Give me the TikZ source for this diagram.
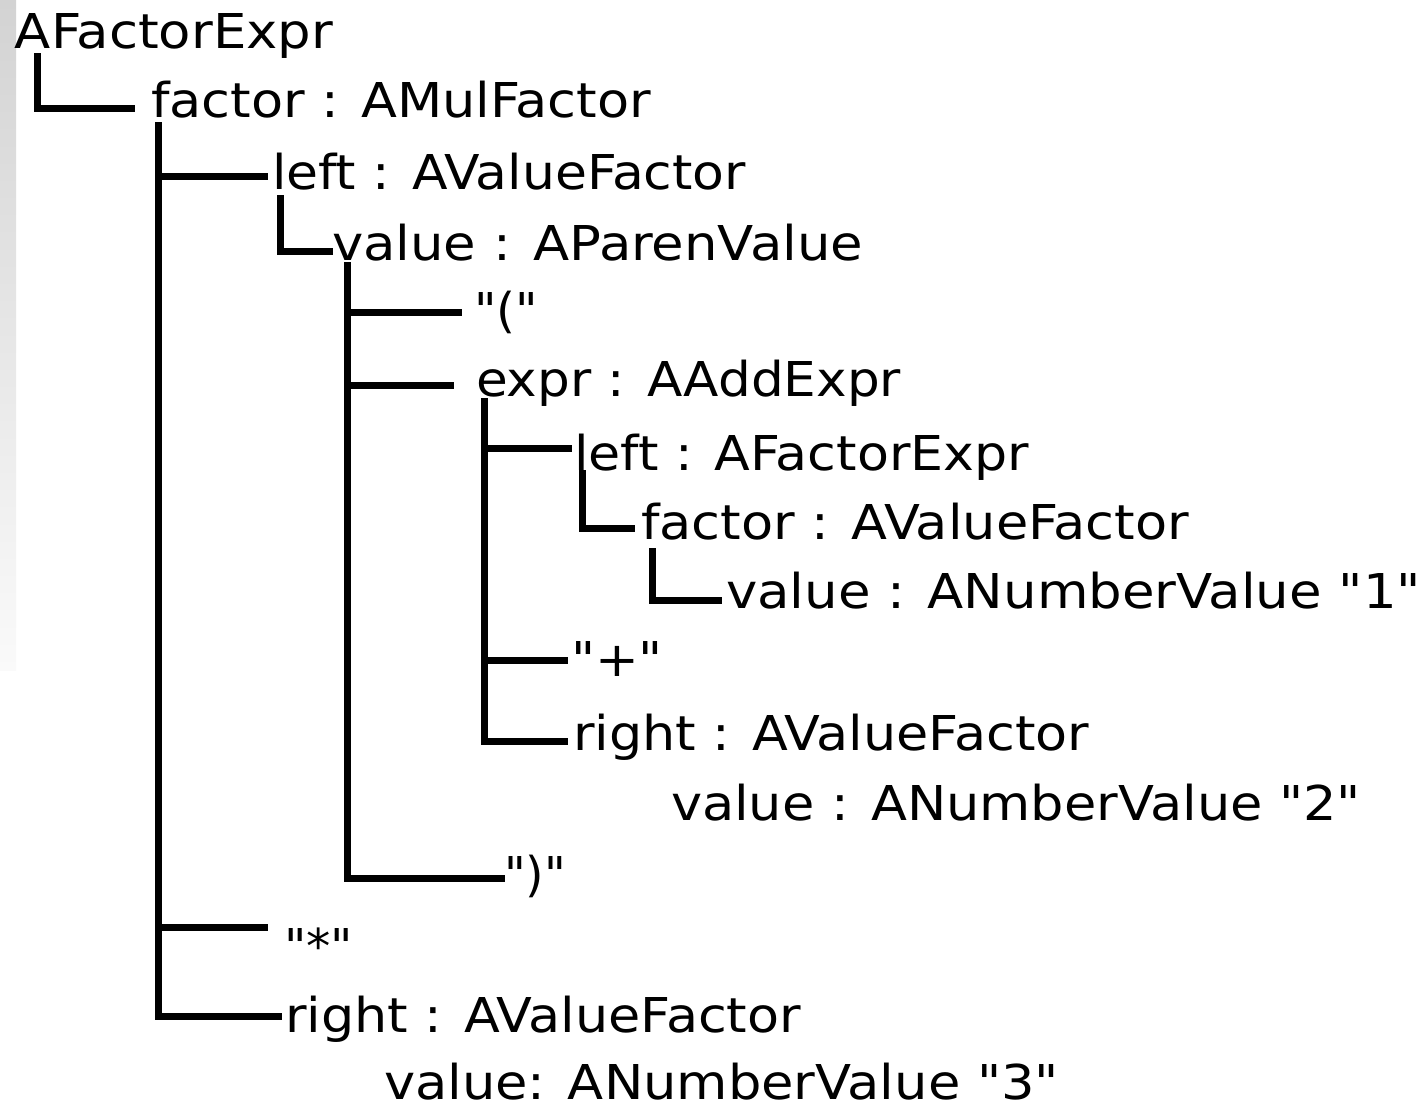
\documentclass[tikz,border=0pt]{standalone}
\usepackage{fontspec}
\setmainfont{DejaVu Sans}[Ligatures=TeXOff]
\usepackage{graphicx}
\newcommand{\fw}[2]{\resizebox{#1pt}{\height}{#2}}
\begin{document}
\begin{tikzpicture}[x=1pt,y=-1pt,
  lbl/.style={anchor=base west,inner sep=0pt,outer sep=0pt,font=\fontsize{48}{58}\selectfont},
  tree/.style={line width=7pt,black,line join=miter,line cap=butt}]
\useasboundingbox (0,0) rectangle (1424,1106);
\fill[white] (0,0) rectangle (1424,1106);
\shade[top color={rgb,255:red,211;green,211;blue,211},bottom color={rgb,255:red,250;green,250;blue,250}] (0,0) rectangle (16,670);

% text nodes
\node[lbl] (n0)  at (15,48)   {\fw{318}{AFactorExpr}};
\node[lbl] (n1)  at (151,117) {\fw{500}{factor : AMulFactor}};
\node[lbl] (n2)  at (272,189) {\fw{474}{left : AValueFactor}};
\node[lbl] (n3)  at (332,260) {\fw{531}{value : AParenValue}};
\node[lbl] (n4)  at (474,327) {\fw{64}{"("}};
\node[lbl] (n5)  at (476,396) {\fw{425}{expr : AAddExpr}};
\node[lbl] (n6)  at (574,470) {\fw{455}{left : AFactorExpr}};
\node[lbl] (n7)  at (641,539) {\fw{548}{factor : AValueFactor}};
\node[lbl] (n8)  at (726,608) {\fw{695}{value : ANumberValue "1"}};
\node[lbl] (n9)  at (571,676) {\fw{92}{"+"}};
\node[lbl] (n10) at (573,750) {\fw{516}{right : AValueFactor}};
\node[lbl] (n11) at (671,820) {\fw{690}{value : ANumberValue "2"}};
\node[lbl] (n12) at (504,891) {\fw{62}{")"}};
\node[lbl] (n13) at (284,963) {\fw{69}{"*"}};
\node[lbl] (n14) at (285,1032){\fw{516}{right : AValueFactor}};
\node[lbl] (n15) at (384,1099){\fw{675}{value: ANumberValue "3"}};

% trunk tops
\coordinate (t0) at (37,53);
\coordinate (t1) at (158,122);
\coordinate (t2) at (280,195);
\coordinate (t3) at (347,262);
\coordinate (t4) at (484,398);
\coordinate (t5) at (582,470);
\coordinate (t6) at (652,548);

% branch ends
\coordinate (b1)  at (135,108);
\coordinate (b2)  at (268,176);
\coordinate (b3)  at (333,251);
\coordinate (b4)  at (462,312);
\coordinate (b5)  at (454,385);
\coordinate (b6)  at (572,448);
\coordinate (b7)  at (635,528);
\coordinate (b8)  at (722,600);
\coordinate (b9)  at (568,660);
\coordinate (b10) at (568,741);
\coordinate (b12) at (505,878);
\coordinate (b13) at (268,927);
\coordinate (b14) at (282,1016);

% connectors
\draw[tree] (t0) |- (b1);
\draw[tree] (t1) |- (b14);
\draw[tree] (t1 |- b2) -- (b2);
\draw[tree] (t1 |- b13) -- (b13);
\draw[tree] (t2) |- (b3);
\draw[tree] (t3) |- (b12);
\draw[tree] (t3 |- b4) -- (b4);
\draw[tree] (t3 |- b5) -- (b5);
\draw[tree] (t4) |- (b10);
\draw[tree] (t4 |- b6) -- (b6);
\draw[tree] (t4 |- b9) -- (b9);
\draw[tree] (t5) |- (b7);
\draw[tree] (t6) |- (b8);
\end{tikzpicture}
\end{document}
